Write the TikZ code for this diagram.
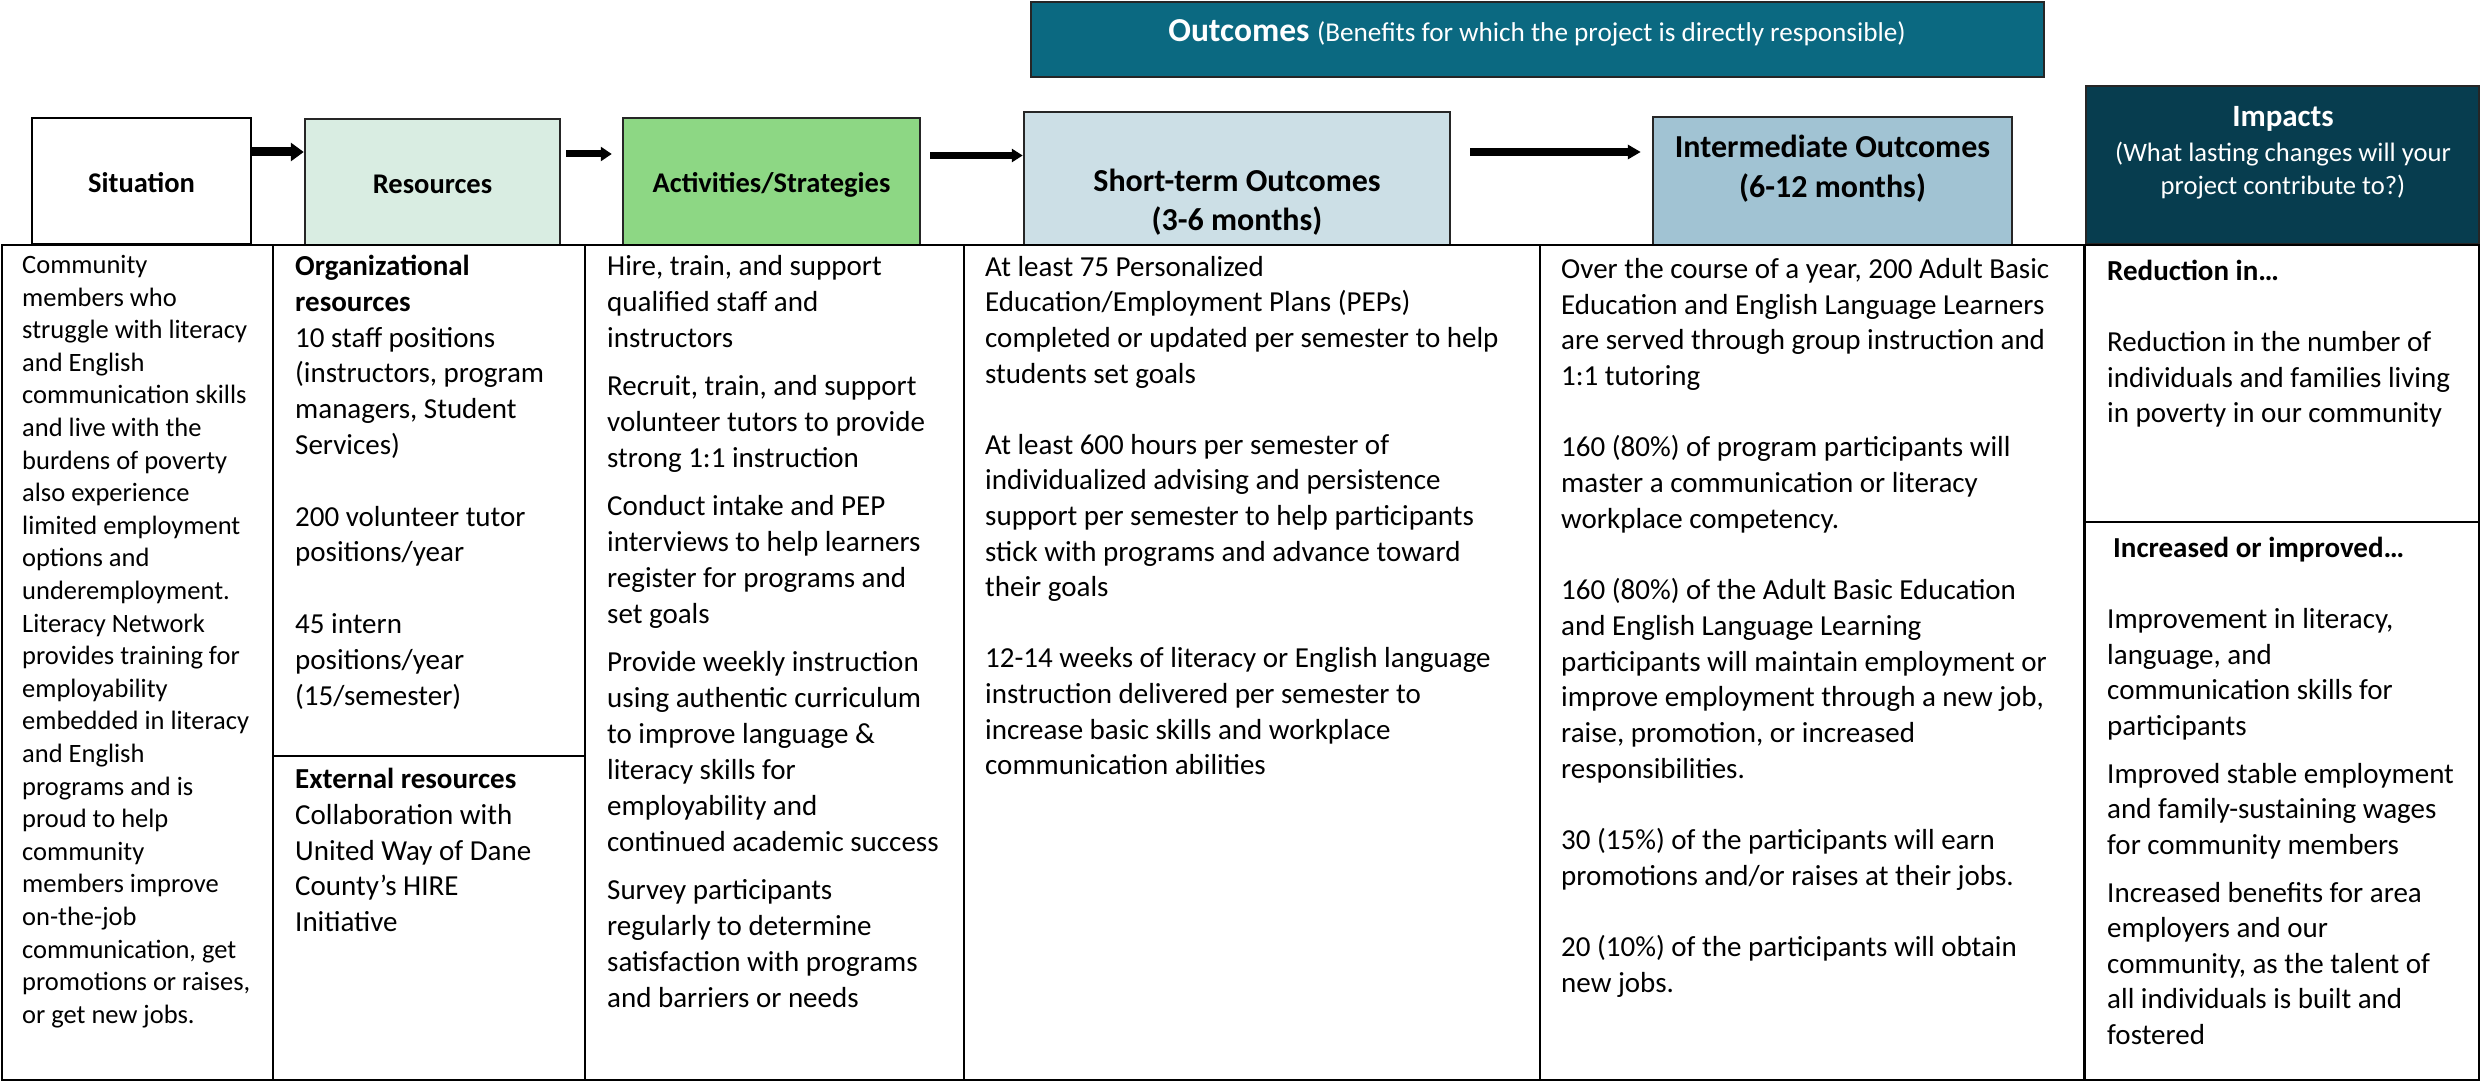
\documentclass[tikz,border=0pt]{standalone}
\usepackage{fontspec}
\setmainfont{Carlito}
\usetikzlibrary{arrows.meta}
\definecolor{outteal}{HTML}{0B6981}
\definecolor{resgreen}{HTML}{D9EDE2}
\definecolor{actgreen}{HTML}{8DD784}
\definecolor{stoblue}{HTML}{CCDFE6}
\definecolor{imoblue}{HTML}{A1C3D3}
\definecolor{impnavy}{HTML}{073D4F}
\begin{document}
\begin{tikzpicture}[x=1pt,y=-1pt,
	hdbox/.style={draw=black!85,line width=2.5pt,inner sep=0pt},
	bodybox/.style={draw,line width=2pt,inner sep=0pt},
	hdtext/.style={font=\bfseries\fontsize{28.5}{34}\selectfont,align=center,anchor=base,inner sep=0pt},
	bodytext/.style={font=\fontsize{29}{35.7}\selectfont,align=left,anchor=north west,inner sep=0pt,
		execute at begin node=\rule{0pt}{25pt}},
	flow/.style={line width=7pt,-{Triangle[length=11pt,width=14pt]}}]
	\useasboundingbox (0,0) rectangle (2481,1083);
	% header row
	\node[hdbox,fill=outteal,minimum width=1013pt,minimum height=75pt] (outc) at (1537.5,39.5) {};
	\node[hdbox,fill=white,draw=black,minimum width=219pt,minimum height=126pt] (sit) at (141.5,181) {};
	\node[hdbox,fill=resgreen,minimum width=255pt,minimum height=126pt] (res) at (432.5,182) {};
	\node[hdbox,fill=actgreen,minimum width=297pt,minimum height=127pt] (act) at (771.5,181.5) {};
	\node[hdbox,fill=stoblue,minimum width=426pt,minimum height=133pt] (sto) at (1237,178.5) {};
	\node[hdbox,fill=imoblue,minimum width=359pt,minimum height=128pt] (imo) at (1832.5,181) {};
	\node[hdbox,fill=impnavy,minimum width=393pt,minimum height=158pt] (imp) at (2282.5,165) {};
	\node[hdtext,text=white,font=\bfseries\fontsize{33.5}{38}\selectfont] (outct) at (1537,42) {Outcomes {\mdseries\fontsize{27.2}{32}\selectfont(Benefits for which the project is directly responsible)}};
	\node[hdtext] (sitt) at (141.5,193) {Situation};
	\node[hdtext] (rest) at (432.5,194) {Resources};
	\node[hdtext] (actt) at (771.5,193) {Activities/Strategies};
	\node[hdtext,font=\bfseries\fontsize{32}{39}\selectfont] (stot) at (1237,231) {Short-term Outcomes\\(3-6 months)};
	\node[hdtext,font=\bfseries\fontsize{32}{40}\selectfont] (imot) at (1832.5,198) {Intermediate Outcomes\\(6-12 months)};
	\node[hdtext,text=white,font=\fontsize{26.6}{33}\selectfont] (impt) at (2283,195) {{\bfseries\fontsize{31}{36}\selectfont Impacts}\\[2pt](What lasting changes will your\\project contribute to?)};
	% arrows
	\draw[flow,line width=9pt,-{Triangle[length=13pt,width=18pt]}] (sit.east |- 0,152) -- (res.west |- 0,152);
	\draw[flow,shorten <=5pt,shorten >=10pt] (res.east |- 0,154) -- (act.west |- 0,154);
	\draw[flow,-{Triangle[length=11pt,width=13pt]},shorten <=9pt] (act.east |- 0,155.5) -- (sto.west |- 0,155.5);
	\draw[flow,line width=8pt,-{Triangle[length=13pt,width=14pt]},shorten <=19pt,shorten >=11pt] (sto.east |- 0,152) -- (imo.west |- 0,152);
	% body columns
	\node[bodybox,minimum width=271pt,minimum height=835pt] (sitb) at (137.5,662.5) {};
	\node[bodybox,minimum width=312pt,minimum height=835pt] (resb) at (429,662.5) {};
	\node[bodybox,minimum width=379pt,minimum height=835pt] (actb) at (774.5,662.5) {};
	\node[bodybox,minimum width=576pt,minimum height=835pt] (stob) at (1252,662.5) {};
	\node[bodybox,minimum width=544pt,minimum height=835pt] (imob) at (1812,662.5) {};
	\node[bodybox,minimum width=394pt,minimum height=835pt] (impb) at (2282,662.5) {};
	\draw[line width=2pt] (resb.west |- 0,756) -- (resb.east |- 0,756);
	\draw[line width=2pt] (impb.west |- 0,522) -- (impb.east |- 0,522);
	% body texts
	\node[bodytext,font=\fontsize{26.5}{32.6}\selectfont] (sitx) at (22,255) {Community\\members who\\struggle with literacy\\and English\\communication skills\\and live with the\\burdens of poverty\\also experience\\limited employment\\options and\\underemployment.\\Literacy Network\\provides training for\\employability\\embedded in literacy\\and English\\programs and is\\proud to help\\community\\members improve\\on-the-job\\communication, get\\promotions or raises,\\or get new jobs.};
	\node[bodytext,font=\fontsize{29}{35.8}\selectfont] (resx) at (295,255) {\textbf{Organizational}\\\textbf{resources}\\10 staff positions\\(instructors, program\\managers, Student\\Services)\\[35.8pt]200 volunteer tutor\\positions/year\\[35.8pt]45 intern\\positions/year\\(15/semester)};
	\node[bodytext,font=\fontsize{29}{35.8}\selectfont] (resy) at (295,768) {\textbf{External resources}\\Collaboration with\\United Way of Dane\\County’s HIRE\\Initiative};
	\node[bodytext,font=\fontsize{29}{36}\selectfont] (actx) at (607,255) {Hire, train, and support\\qualified staff and\\instructors\\[12pt]Recruit, train, and support\\volunteer tutors to provide\\strong 1:1 instruction\\[12pt]Conduct intake and PEP\\interviews to help learners\\register for programs and\\set goals\\[12pt]Provide weekly instruction\\using authentic curriculum\\to improve language \&\\literacy skills for\\employability and\\continued academic success\\[12pt]Survey participants\\regularly to determine\\satisfaction with programs\\and barriers or needs};
	\node[bodytext,font=\fontsize{29}{35.6}\selectfont] (stox) at (985,256) {At least 75 Personalized\\Education/Employment Plans (PEPs)\\completed or updated per semester to help\\students set goals\\[35.6pt]At least 600 hours per semester of\\individualized advising and persistence\\support per semester to help participants\\stick with programs and advance toward\\their goals\\[35.6pt]12-14 weeks of literacy or English language\\instruction delivered per semester to\\increase basic skills and workplace\\communication abilities};
	\node[bodytext] (imox) at (1561,258) {Over the course of a year, 200 Adult Basic\\Education and English Language Learners\\are served through group instruction and\\1:1 tutoring\\[35.7pt]160 (80\%) of program participants will\\master a communication or literacy\\workplace competency.\\[35.7pt]160 (80\%) of the Adult Basic Education\\and English Language Learning\\participants will maintain employment or\\improve employment through a new job,\\raise, promotion, or increased\\responsibilities.\\[35.7pt]30 (15\%) of the participants will earn\\promotions and/or raises at their jobs.\\[35.7pt]20 (10\%) of the participants will obtain\\new jobs.};
	\node[bodytext,font=\fontsize{29}{35.5}\selectfont] (impx) at (2107,260) {\textbf{Reduction in…}\\[35.5pt]Reduction in the number of\\individuals and families living\\in poverty in our community};
	\node[bodytext,font=\fontsize{29}{35.5}\selectfont] (impy) at (2107,537) {\hspace*{6pt}\textbf{Increased or improved…}\\[35.5pt]Improvement in literacy,\\language, and\\communication skills for\\participants\\[12.5pt]Improved stable employment\\and family-sustaining wages\\for community members\\[12.5pt]Increased benefits for area\\employers and our\\community, as the talent of\\all individuals is built and\\fostered};
\end{tikzpicture}
\end{document}
